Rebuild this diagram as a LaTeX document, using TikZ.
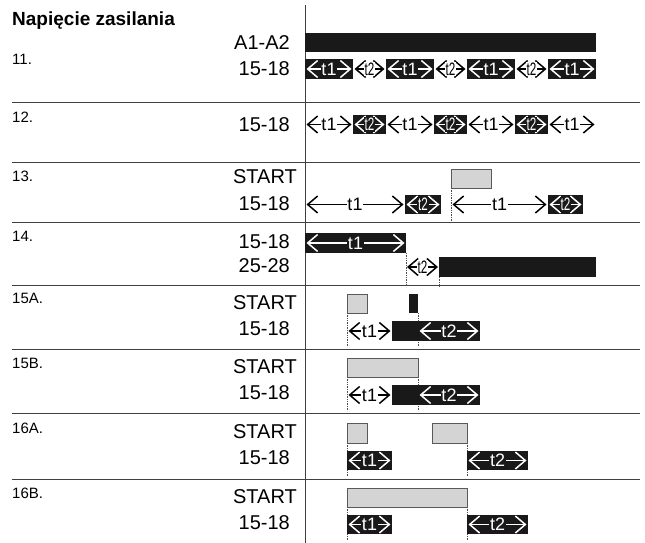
\documentclass[tikz,border=0pt]{standalone}
\usepackage{fontspec}
\setmainfont{Liberation Sans}
\usetikzlibrary{arrows.meta}

\begin{document}
\begin{tikzpicture}[x=1pt, y=-1pt,
  >={Straight Barb[length=10pt,width=17pt,line width=1.5pt]},
  sig/.style={anchor=east, inner sep=0pt, font=\fontsize{20}{20}\selectfont},
  num/.style={anchor=west, inner sep=0pt, font=\fontsize{15}{15}\selectfont},
  bar/.style={fill=black!90},
  gbox/.style={fill=black!17, draw=black!65, line width=0.9pt},
  guide/.style={densely dotted, line width=0.7pt, black!70},
  rowline/.style={line width=0.9pt, black!75},
  tarr/.style={<->, line width=1.3pt},
  wlab/.style={fill=black!90, text=white, inner sep=0.8pt, font=\fontsize{18}{18}\selectfont},
  blab/.style={fill=white, text=black, inner sep=0.8pt, font=\fontsize{18}{18}\selectfont}]
\useasboundingbox (0,0) rectangle (645,543);
% frame
\draw[rowline] (305,5) -- (305,543);
\foreach \y in {102,162.5,222,285.5,349,413,479}
  \draw[rowline] (12,\y) -- (640,\y);
\node[anchor=base west, inner sep=0pt, font=\bfseries\fontsize{19}{19}\selectfont] (title) at (12,26) {Napięcie zasilania};
% 11.
\node[num] (n11) at (12,59) {11.};
\node[sig] (a1a2) at (290,43) {A1-A2};
\node[sig] (s11) at (290,69) {15-18};
\fill[bar] (305,33) rectangle (596,52);
\foreach \s in {305,386,467,548} {
  \fill[bar] (\s,59) rectangle ++(48,20);
  \draw[tarr, white] (\s+1.5,69) -- node[wlab] (p\s) {t1} (\s+46.5,69);
}
\foreach \s in {353,434,515}
  \draw[tarr] (\s+1.5,69) -- node[blab] (q\s) {\scalebox{0.65}[1]{t2}} (\s+31.5,69);
% 12.
\node[num] (n12) at (12,117) {12.};
\node[sig] (s12) at (290,124.5) {15-18};
\foreach \s in {305,386,467,548}
  \draw[tarr] (\s+1.5,124.5) -- node[blab] (r\s) {t1} (\s+46.5,124.5);
\foreach \s in {353,434,515} {
  \fill[bar] (\s,115) rectangle ++(33,19);
  \draw[tarr, white] (\s+1.5,124.5) -- node[wlab] (u\s) {\scalebox{0.65}[1]{t2}} (\s+31.5,124.5);
}
% 13.
\node[num] (n13) at (12,176) {13.};
\node[sig] (st13) at (297,177) {START};
\node[sig] (s13) at (290,204) {15-18};
\draw[guide] (451,188) -- (451,222);
\draw[gbox] (451,169) rectangle (491,188);
\draw[tarr] (306.5,204.5) -- node[blab] (a13) {t1} (403.5,204.5);
\fill[bar] (405,195) rectangle (441,214);
\draw[tarr, white] (406.5,204.5) -- node[wlab] (b13) {\scalebox{0.65}[1]{t2}} (439.5,204.5);
\draw[tarr] (452.5,204.5) -- node[blab] (c13) {t1} (546.5,204.5);
\fill[bar] (548,195) rectangle (583,214);
\draw[tarr, white] (549.5,204.5) -- node[wlab] (d13) {\scalebox{0.65}[1]{t2}} (581.5,204.5);
% 14.
\node[num] (n14) at (12,236) {14.};
\node[sig] (s14) at (290,242) {15-18};
\node[sig] (k14) at (290,266) {25-28};
\draw[guide] (406,253) -- (406,287);
\draw[guide] (439,277) -- (439,287);
\fill[bar] (305,233) rectangle (406,253);
\draw[tarr, white] (306.5,243) -- node[wlab] (a14) {t1} (404.5,243);
\draw[tarr] (407,267) -- node[blab] (b14) {\scalebox{0.65}[1]{t2}} (438,267);
\fill[bar] (439,257) rectangle (596,277);
% 15A.
\node[num] (n15a) at (12,298) {15A.};
\node[sig] (st15a) at (297,303) {START};
\node[sig] (s15a) at (290,329) {15-18};
\draw[guide] (347,313) -- (347,347);
\draw[guide] (418,313) -- (418,347);
\draw[gbox] (347,294) rectangle (367,313);
\fill[bar] (409,294) rectangle (418,313);
\draw[tarr] (348.5,331) -- node[blab] (a15a) {t1} (390.5,331);
\fill[bar] (392,321) rectangle (480,341);
\draw[tarr, white] (419.5,331) -- node[wlab] (b15a) {t2} (478.5,331);
% 15B.
\node[num] (n15b) at (12,363) {15B.};
\node[sig] (st15b) at (297,367) {START};
\node[sig] (s15b) at (290,393) {15-18};
\draw[guide] (347,377) -- (347,411);
\draw[guide] (418,377) -- (418,411);
\draw[gbox] (347,358) rectangle (418,377);
\draw[tarr] (348.5,395) -- node[blab] (a15b) {t1} (390.5,395);
\fill[bar] (392,385) rectangle (480,405);
\draw[tarr, white] (419.5,395) -- node[wlab] (b15b) {t2} (478.5,395);
% 16A.
\node[num] (n16a) at (12,428) {16A.};
\node[sig] (st16a) at (297,432) {START};
\node[sig] (s16a) at (290,458) {15-18};
\draw[guide] (347,443) -- (347,476);
\draw[guide] (467,443) -- (467,476);
\draw[gbox] (347,423) rectangle (367,443);
\draw[gbox] (432,423) rectangle (467,443);
\fill[bar] (347,451) rectangle (392,470);
\draw[tarr, white] (348.5,460.5) -- node[wlab] (a16a) {t1} (390.5,460.5);
\fill[bar] (467,451) rectangle (528,470);
\draw[tarr, white] (468.5,460.5) -- node[wlab] (b16a) {t2} (526.5,460.5);
% 16B.
\node[num] (n16b) at (12,493) {16B.};
\node[sig] (st16b) at (297,497) {START};
\node[sig] (s16b) at (290,523) {15-18};
\draw[guide] (347,507) -- (347,540);
\draw[guide] (467,507) -- (467,540);
\draw[gbox] (347,488) rectangle (467,507);
\fill[bar] (347,515) rectangle (392,534);
\draw[tarr, white] (348.5,524.5) -- node[wlab] (a16b) {t1} (390.5,524.5);
\fill[bar] (467,515) rectangle (528,534);
\draw[tarr, white] (468.5,524.5) -- node[wlab] (b16b) {t2} (526.5,524.5);
\end{tikzpicture}
\end{document}
